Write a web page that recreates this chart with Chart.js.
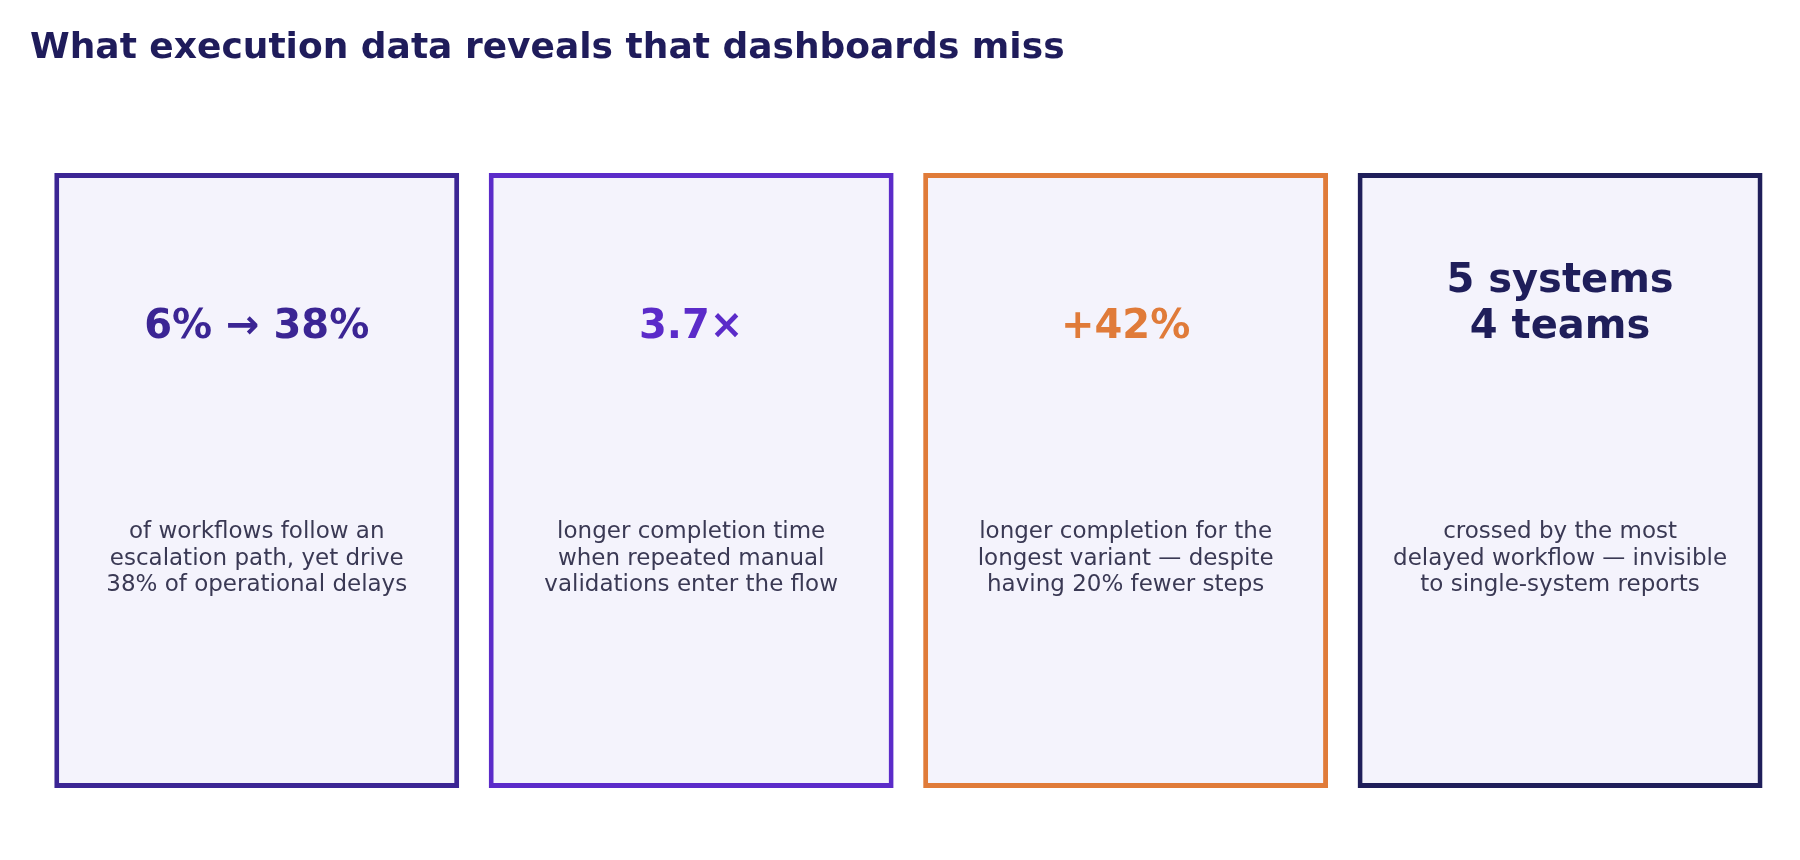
<!DOCTYPE html>
<html>
<head>
<meta charset="utf-8">
<script src="https://cdn.jsdelivr.net/npm/chart.js@4.4.1/dist/chart.umd.min.js"></script>
<style>
    html, body { margin: 0; padding: 0; background: #ffffff; }
    #graph { display: block; }
</style>
</head>
<body>
<canvas id="graph" width="1800" height="860"></canvas>
<script>
// chart content
const chartTitle = "What execution data reveals that dashboards miss";
const cards = ["escalation", "validation", "variant", "handoffs"];
const cardSpans = [[0, 1], [0, 1], [0, 1], [0, 1]];
const headlines = [
    ["6% \u2192 38%"],
    ["3.7\u00d7"],
    ["+42%"],
    ["5 systems", "4 teams"]
];
const captions = [
    ["of workflows follow an", "escalation path, yet drive", "38% of operational delays"],
    ["longer completion time", "when repeated manual", "validations enter the flow"],
    ["longer completion for the", "longest variant \u2014 despite", "having 20% fewer steps"],
    ["crossed by the most", "delayed workflow \u2014 invisible", "to single-system reports"]
];
const accentColors = ["#3b2594", "#5b2bc9", "#e07b39", "#1f1e5a"];

// where the texts sit inside a card (y scale value, 1 = top of card)
const headlineY = 0.731;
const captionY = 0.373;

const cardText = {
    id: "cardText",
    afterDatasetsDraw(chart) {
        const c = chart.ctx;
        const x = chart.scales.x;
        const y = chart.scales.y;
        c.save();
        c.textAlign = "left";
        c.textBaseline = "alphabetic";
        c.fillStyle = "#1f1c5b";
        c.font = "bold 36px 'DejaVu Sans'";
        c.fillText(chartTitle, 30, 58);

        c.textAlign = "center";
        cards.forEach((name, i) => {
            let cx = x.getPixelForValue(i);

            c.fillStyle = accentColors[i];
            c.font = "bold 40px 'DejaVu Sans'";
            let lines = headlines[i];
            let base = y.getPixelForValue(headlineY);
            lines.forEach((t, j) => {
                c.fillText(t, cx, base - (lines.length - 1 - j) * 46);
            });

            c.fillStyle = "#3a3954";
            c.font = "23px 'DejaVu Sans'";
            c.textBaseline = "middle";
            let mid = y.getPixelForValue(captionY);
            let cl = captions[i];
            cl.forEach((t, j) => {
                c.fillText(t, cx, mid + (j - (cl.length - 1) / 2) * 26.6);
            });
            c.textBaseline = "alphabetic";
        });
        c.restore();
    }
};

const ctx = document.getElementById("graph");

const myChart = new Chart(ctx, {
    type: "bar",
    data: {
        labels: cards,
        datasets: [{
            data: cardSpans,
            backgroundColor: "#f4f3fc",
            borderColor: accentColors,
            borderWidth: 5,
            borderSkipped: false,
            categoryPercentage: 0.932,
            barPercentage: 1.0
        }]
    },
    options: {
        responsive: false,
        animation: false,
        layout: {
            padding: { left: 39.5, right: 22.7, top: 173, bottom: 72 }
        },
        scales: {
            x: { display: false },
            y: { display: false, min: 0, max: 1 }
        },
        plugins: {
            legend: { display: false },
            tooltip: { enabled: false }
        }
    },
    plugins: [cardText]
});
</script>
</body>
</html>
